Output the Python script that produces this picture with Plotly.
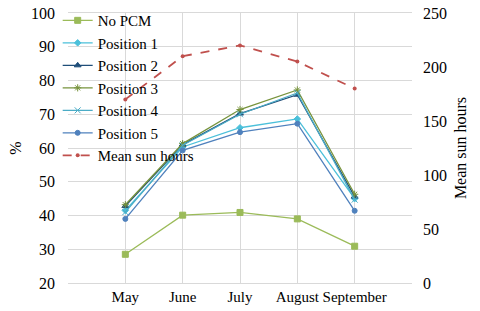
import plotly.graph_objects as go

months = ["May", "June", "July", "August", "September"]
no_pcm = [28.5, 40.1, 40.9, 39.0, 30.9]
pos1 = [41.5, 60.3, 66.0, 68.6, 45.0]
pos2 = [42.8, 61.0, 70.2, 75.8, 45.6]
pos3 = [43.2, 61.3, 71.4, 77.2, 46.3]
pos4 = [41.0, 60.8, 70.0, 76.3, 44.7]
pos5 = [39.0, 59.3, 64.7, 67.2, 41.4]
sun_hours = [170, 210, 220, 205, 180]

x = [1, 2, 3, 4, 5]
font = "Liberation Serif"

fig = go.Figure()
series = [
    ("No PCM", no_pcm, "#9BBB59", "square", 6),
    ("Position 1", pos1, "#4BC0DA", "diamond", 5),
    ("Position 2", pos2, "#1F4E79", "triangle-up", 6),
    ("Position 3", pos3, "#77933C", "asterisk-open", 6),
    ("Position 4", pos4, "#4BACC6", "x-thin-open", 6),
    ("Position 5", pos5, "#4F81BD", "circle", 5),
]
for name, vals, color, sym, size in series:
    fig.add_trace(go.Scatter(
        x=x, y=vals, name=name, mode="lines+markers",
        line=dict(color=color, width=1.3),
        marker=dict(symbol=sym, size=size, color=color, line=dict(color=color, width=1)),
    ))
fig.add_trace(go.Scatter(
    x=x, y=sun_hours, name="Mean sun hours", mode="lines+markers", yaxis="y2",
    line=dict(color="#C0504D", width=1.8, dash="dash"),
    marker=dict(symbol="circle", size=4, color="#C0504D"),
))

fig.update_layout(
    width=480, height=311,
    margin=dict(l=68, r=68, t=13, b=28, autoexpand=False),
    paper_bgcolor="white", plot_bgcolor="white",
    font=dict(family=font, size=16, color="#000000"),
    showlegend=True,
    legend=dict(x=-0.03, y=1.033, xanchor="left", yanchor="top",
                bgcolor="rgba(0,0,0,0)", font=dict(size=15),
                tracegroupgap=0, itemwidth=30, maxheight=300),
    xaxis=dict(range=[0, 6], tickvals=x, ticktext=months, tickangle=0,
               automargin=False,
               showgrid=True, gridcolor="#D9D9D9", gridwidth=1,
               showline=True, linecolor="#D9D9D9", mirror=True,
               zeroline=False, ticks="", tickfont=dict(size=15)),
    yaxis=dict(range=[20, 100], dtick=10, showgrid=True, gridcolor="#D9D9D9",
               automargin=False, ticklabelstandoff=12,
               zeroline=False, ticks="", tickfont=dict(size=16),
               title=dict(text="%", font=dict(size=16), standoff=5)),
    yaxis2=dict(range=[0, 250], dtick=50, overlaying="y", side="right",
                automargin=False, ticklabelstandoff=10,
                showgrid=False, zeroline=False, ticks="", tickfont=dict(size=16),
                title=dict(text="Mean sun hours", font=dict(size=16), standoff=8)),
)

fig.write_html("out.html", config={"displayModeBar": False},
               post_script="document.body.style.margin='0';")
